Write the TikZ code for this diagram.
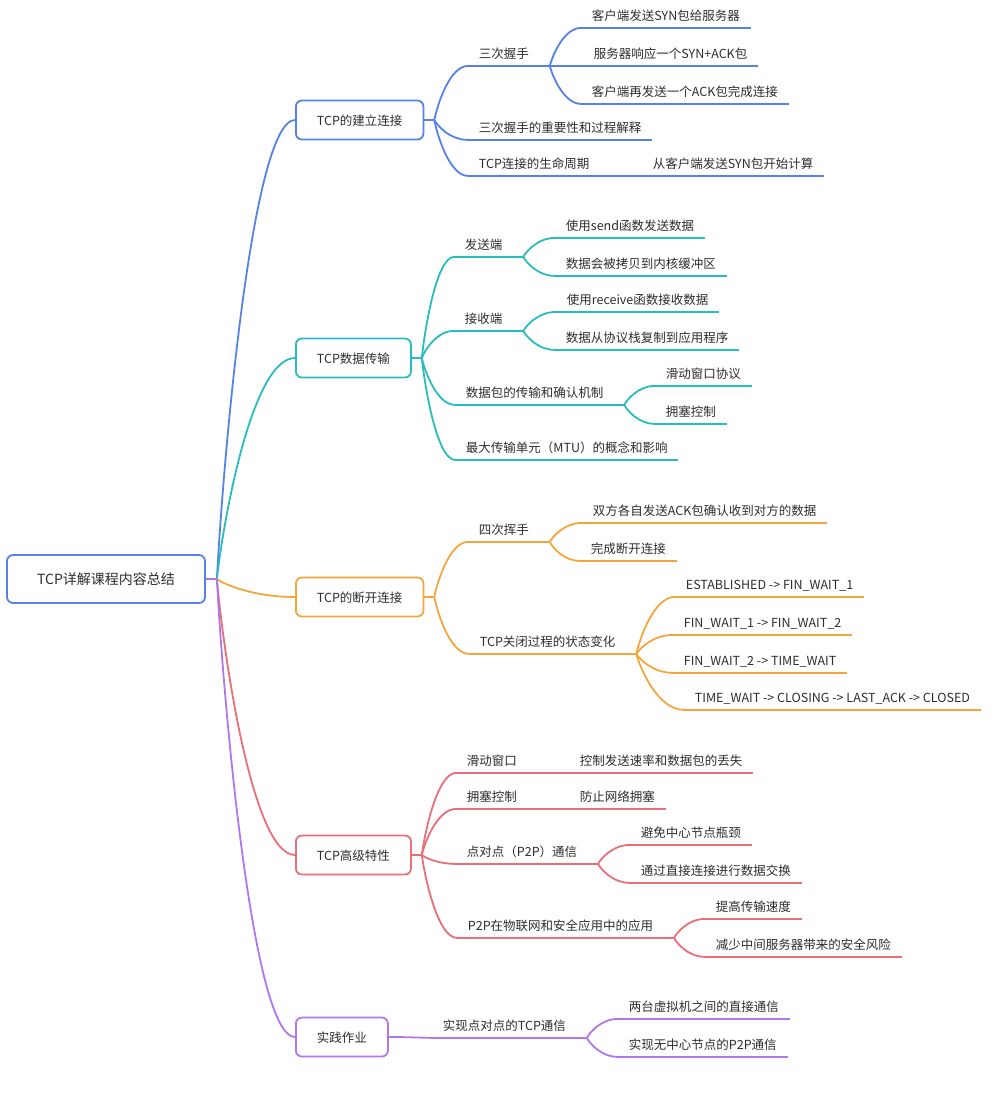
\documentclass[tikz,border=0pt]{standalone}
\usepackage{fontspec}
\setmainfont{Noto Sans CJK SC}
\usetikzlibrary{calc}
\definecolor{cblue}{RGB}{86,130,232}
\definecolor{cteal}{RGB}{40,188,190}
\definecolor{corange}{RGB}{242,166,60}
\definecolor{cred}{RGB}{232,110,120}
\definecolor{cpurple}{RGB}{176,118,236}
\definecolor{textgray}{RGB}{45,45,45}
\tikzset{
  curvy/.style={to path={let \p1=(\tikztostart), \p2=(\tikztotarget) in
    .. controls ({\x1+0.08*(\x2-\x1)},{\y1+0.26*(\y2-\y1)}) and ({\x1+0.45*(\x2-\x1)},{\y2}) .. (\tikztotarget)}},
  topic/.style={draw, fill=white, rounded corners=6pt, line width=1.8pt, anchor=west,
    minimum height=39pt, inner xsep=21pt, text height=10pt, text depth=0pt,
    font=\fontsize{12.5}{15}\selectfont, text=textgray},
  leaf/.style={anchor=west, inner xsep=10pt, inner ysep=7pt, text height=10pt, text depth=0pt,
    font=\fontsize{12.5}{15}\selectfont, text=textgray},
}
\begin{document}
\begin{tikzpicture}[x=1pt,y=-1pt,line width=1.8pt]
\useasboundingbox (0,0) rectangle (1000,1112);
% root
\node[draw=cblue, fill=white, rounded corners=6pt, line width=1.8pt, minimum width=198pt,
  minimum height=48pt, text height=10pt, text depth=0pt, text=textgray,
  font=\fontsize{14}{17}\selectfont] (root) at (106,579) {TCP详解课程内容总结};
\coordinate (rootf) at ([xshift=11pt]root.east);

% TCP的建立连接
\begin{scope}[cblue]
\draw (rootf) to[curvy] (295,120);
\node[topic] (b1) at (295,120) {TCP的建立连接};
\coordinate (b1f) at ([xshift=10pt]b1.east);
\draw (b1.east) -- (b1f);
\node[leaf] (a1) at (468,53) {三次握手};
\node[leaf] (a11) at (581,15) {客户端发送SYN包给服务器};
\node[leaf] (a12) at (583,53) {服务器响应一个SYN+ACK包};
\node[leaf] (a13) at (581,91) {客户端再发送一个ACK包完成连接};
\node[leaf] (a2) at (468,127) {三次握手的重要性和过程解释};
\node[leaf] (a3) at (468,163) {TCP连接的生命周期};
\node[leaf] (a31) at (642,163) {从客户端发送SYN包开始计算};
\coordinate (a1f) at ([xshift=10pt]a1.south east);
\coordinate (a3f) at ([xshift=10pt]a3.south east);
\foreach \k in {a1,a2,a3} \draw (b1f) to[curvy] (\k.south west);
\foreach \k in {a11,a12,a13} \draw (a1f) to[curvy] (\k.south west);
\draw (a3f) -- (a31.south west);
\draw (a1.south west) -- (a1f);
\draw (a3.south west) -- (a3f);
\foreach \k in {a11,a12,a13,a2,a31} \draw (\k.south west) -- (\k.south east);
\end{scope}

% TCP数据传输
\begin{scope}[cteal]
\draw (rootf) to[curvy] (295,358);
\node[topic] (b2) at (295,358) {TCP数据传输};
\coordinate (b2f) at ([xshift=10pt]b2.east);
\draw (b2.east) -- (b2f);
\node[leaf] (t1) at (454,244) {发送端};
\node[leaf] (t11) at (555,225) {使用send函数发送数据};
\node[leaf] (t12) at (555,263) {数据会被拷贝到内核缓冲区};
\node[leaf] (t2) at (454,318) {接收端};
\node[leaf] (t21) at (556,299) {使用receive函数接收数据};
\node[leaf] (t22) at (555,337) {数据从协议栈复制到应用程序};
\node[leaf] (t3) at (455,392) {数据包的传输和确认机制};
\node[leaf] (t31) at (655,373) {滑动窗口协议};
\node[leaf] (t32) at (655,411) {拥塞控制};
\node[leaf] (t4) at (455,447) {最大传输单元（MTU）的概念和影响};
\foreach \k in {t1,t2,t3} {
  \coordinate (\k f) at ([xshift=10pt]\k.south east);
  \draw (\k.south west) -- (\k f);
}
\foreach \k in {t1,t2,t3,t4} \draw (b2f) to[curvy] (\k.south west);
\foreach \k in {t11,t12} \draw (t1f) to[curvy] (\k.south west);
\foreach \k in {t21,t22} \draw (t2f) to[curvy] (\k.south west);
\foreach \k in {t31,t32} \draw (t3f) to[curvy] (\k.south west);
\foreach \k in {t11,t12,t21,t22,t31,t32,t4} \draw (\k.south west) -- (\k.south east);
\end{scope}

% TCP的断开连接
\begin{scope}[corange]
\draw (rootf) to[curvy] (295,597);
\node[topic] (b3) at (295,597) {TCP的断开连接};
\coordinate (b3f) at ([xshift=10pt]b3.east);
\draw (b3.east) -- (b3f);
\node[leaf] (o1) at (468,529) {四次挥手};
\node[leaf] (o11) at (582,510) {双方各自发送ACK包确认收到对方的数据};
\node[leaf] (o12) at (580,548) {完成断开连接};
\node[leaf] (o2) at (469,641) {TCP关闭过程的状态变化};
\node[leaf] (o21) at (675,584) {ESTABLISHED -> FIN\_WAIT\_1};
\node[leaf] (o22) at (673,622) {FIN\_WAIT\_1 -> FIN\_WAIT\_2};
\node[leaf] (o23) at (673,660) {FIN\_WAIT\_2 -> TIME\_WAIT};
\node[leaf] (o24) at (684,697) {TIME\_WAIT -> CLOSING -> LAST\_ACK -> CLOSED};
\foreach \k in {o1,o2} {
  \coordinate (\k f) at ([xshift=10pt]\k.south east);
  \draw (\k.south west) -- (\k f);
  \draw (b3f) to[curvy] (\k.south west);
}
\foreach \k in {o11,o12} \draw (o1f) to[curvy] (\k.south west);
\foreach \k in {o21,o22,o23,o24} \draw (o2f) to[curvy] (\k.south west);
\foreach \k in {o11,o12,o21,o22,o23,o24} \draw (\k.south west) -- (\k.south east);
\end{scope}

% TCP高级特性
\begin{scope}[cred]
\draw (rootf) to[curvy] (295,855);
\node[topic] (b4) at (295,855) {TCP高级特性};
\coordinate (b4f) at ([xshift=10pt]b4.east);
\draw (b4.east) -- (b4f);
\node[leaf] (r1) at (456,760) {滑动窗口};
\node[leaf] (r11) at (569,760) {控制发送速率和数据包的丢失};
\node[leaf] (r2) at (456,796) {拥塞控制};
\node[leaf] (r21) at (569,796) {防止网络拥塞};
\node[leaf] (r3) at (456,851) {点对点（P2P）通信};
\node[leaf] (r31) at (630,832) {避免中心节点瓶颈};
\node[leaf] (r32) at (630,870) {通过直接连接进行数据交换};
\node[leaf] (r4) at (457,925) {P2P在物联网和安全应用中的应用};
\node[leaf] (r41) at (705,906) {提高传输速度};
\node[leaf] (r42) at (705,944) {减少中间服务器带来的安全风险};
\foreach \k in {r1,r2,r3,r4} {
  \coordinate (\k f) at ([xshift=10pt]\k.south east);
  \draw (\k.south west) -- (\k f);
  \draw (b4f) to[curvy] (\k.south west);
}
\draw (r1f) -- (r11.south west);
\draw (r2f) -- (r21.south west);
\foreach \k in {r31,r32} \draw (r3f) to[curvy] (\k.south west);
\foreach \k in {r41,r42} \draw (r4f) to[curvy] (\k.south west);
\foreach \k in {r11,r21,r31,r32,r41,r42} \draw (\k.south west) -- (\k.south east);
\end{scope}

% 实践作业
\begin{scope}[cpurple]
\draw (rootf) to[curvy] (295,1037);
\node[topic] (b5) at (295,1037) {实践作业};
\coordinate (b5f) at ([xshift=10pt]b5.east);
\draw (b5.east) -- (b5f);
\node[leaf] (p1) at (432,1025) {实现点对点的TCP通信};
\node[leaf] (p11) at (618,1006) {两台虚拟机之间的直接通信};
\node[leaf] (p12) at (618,1044) {实现无中心节点的P2P通信};
\coordinate (p1f) at ([xshift=10pt]p1.south east);
\draw (b5f) -- (p1.south west) -- (p1f);
\foreach \k in {p11,p12} {
  \draw (p1f) to[curvy] (\k.south west);
  \draw (\k.south west) -- (\k.south east);
}
\draw (root.east) -- (rootf);
\end{scope}
\end{tikzpicture}
\end{document}
